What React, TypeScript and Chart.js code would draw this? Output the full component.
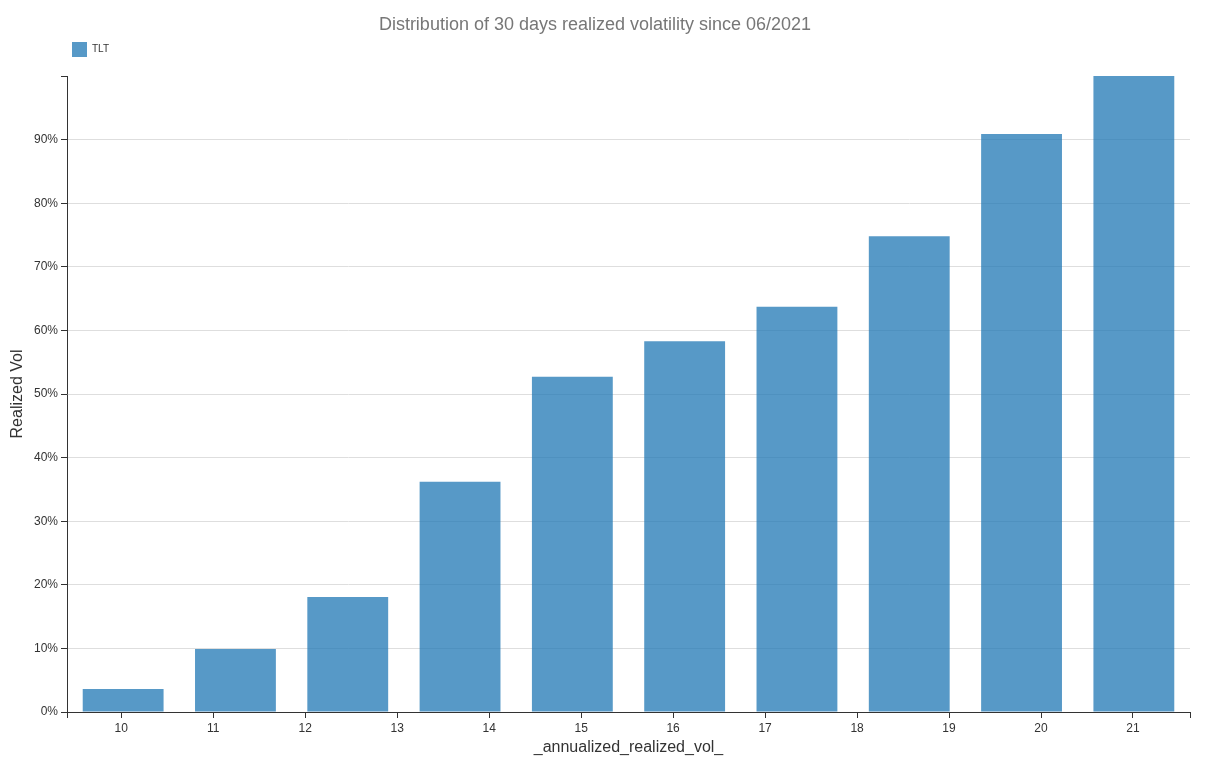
import React, { useEffect, useRef } from "react";
import { Chart, registerables } from "chart.js";

Chart.register(...registerables);

const binLabels = ["10.02", "11.24", "12.46", "13.68", "14.90", "16.12", "17.34", "18.57", "19.79", "21.01"];
const tltValues = [0.036, 0.099, 0.181, 0.362, 0.527, 0.583, 0.637, 0.748, 0.909, 1.0];
const xTickValues = [9.41, 10, 11, 12, 13, 14, 15, 16, 17, 18, 19, 20, 21, 21.62];
const yTickValues = [0, 0.1, 0.2, 0.3, 0.4, 0.5, 0.6, 0.7, 0.8, 0.9, 1.0];
const xMin = 9.41;
const xMax = 21.62;

const FONT = "'Liberation Sans', Arial, Helvetica, sans-serif";
const AXIS = "#333333";

export default function App() {
  const ref = useRef<HTMLCanvasElement | null>(null);

  useEffect(() => {
    if (!ref.current) return;
    const chart = new Chart(ref.current, {
      type: "bar",
      data: {
        labels: binLabels,
        datasets: [
          {
            label: "TLT",
            data: tltValues,
            xAxisID: "xb",
            yAxisID: "y",
            backgroundColor: "rgba(31,119,180,0.75)",
            borderWidth: 0,
            categoryPercentage: 1,
            barPercentage: 0.72,
          },
        ],
      },
      options: {
        animation: false,
        responsive: false,
        devicePixelRatio: 1,
        layout: { padding: { left: 0, right: 16, top: 0, bottom: 0 } },
        plugins: {
          title: {
            display: true,
            text: "Distribution of 30 days realized volatility since 06/2021",
            color: "#777777",
            font: { family: FONT, size: 18, weight: "normal" },
            padding: { top: 14, bottom: 1.4 },
          },
          legend: {
            display: true,
            position: "top",
            align: "start",
            fullSize: false,
            labels: {
              boxWidth: 15,
              boxHeight: 15,
              padding: 5,
              color: AXIS,
              font: { family: FONT, size: 10 },
            },
          },
          tooltip: { enabled: false },
        },
        scales: {
          xb: {
            type: "category",
            position: "top",
            offset: true,
            display: true,
            grid: { display: false },
            border: { display: false },
            ticks: { display: false },
            afterFit: (s: any) => {
              s.height = 9;
            },
          },
          x: {
            type: "linear",
            position: "bottom",
            min: xMin,
            max: xMax,
            offset: false,
            afterBuildTicks: (s: any) => {
              s.ticks = xTickValues.map((v) => ({ value: v }));
            },
            afterFit: (s: any) => {
              s.height = 52;
            },
            ticks: {
              autoSkip: false,
              maxRotation: 0,
              minRotation: 0,
              padding: 3,
              color: AXIS,
              font: { family: FONT, size: 12 },
              callback: (v: any) => (Number.isInteger(Number(v)) ? String(v) : ""),
            },
            grid: {
              offset: false,
              drawOnChartArea: false,
              drawTicks: true,
              tickLength: 6,
              tickColor: AXIS,
            },
            border: { display: true, color: AXIS, width: 1 },
            title: {
              display: true,
              text: "_annualized_realized_vol_",
              color: AXIS,
              font: { family: FONT, size: 16 },
              padding: { top: 4, bottom: 6.4 },
            },
          },
          y: {
            type: "linear",
            min: 0,
            max: 1,
            afterBuildTicks: (s: any) => {
              s.ticks = yTickValues.map((v) => ({ value: v }));
            },
            afterFit: (s: any) => {
              s.width = 67;
            },
            ticks: {
              padding: 3,
              color: AXIS,
              font: { family: FONT, size: 12 },
              callback: (v: any) => {
                const n = Number(v);
                if (n >= 0.999) return "";
                return Math.round(n * 100) + "%";
              },
            },
            grid: {
              color: (ctx: any) => {
                const v = ctx.tick ? ctx.tick.value : 0;
                return v <= 0.0001 || v >= 0.999 ? "rgba(0,0,0,0)" : "#dedede";
              },
              tickColor: AXIS,
              tickLength: 6,
              drawTicks: true,
            },
            border: { display: true, color: AXIS, width: 1 },
            title: {
              display: true,
              text: "Realized Vol",
              color: AXIS,
              font: { family: FONT, size: 16 },
              padding: { top: 8, bottom: 4 },
            },
          },
        },
      } as any,
    });
    return () => chart.destroy();
  }, []);

  return (
    <div style={{ position: "absolute", left: 0, top: 0, width: 1206, height: 764, background: "#fff" }}>
      <canvas ref={ref} width={1206} height={764} />
    </div>
  );
}
